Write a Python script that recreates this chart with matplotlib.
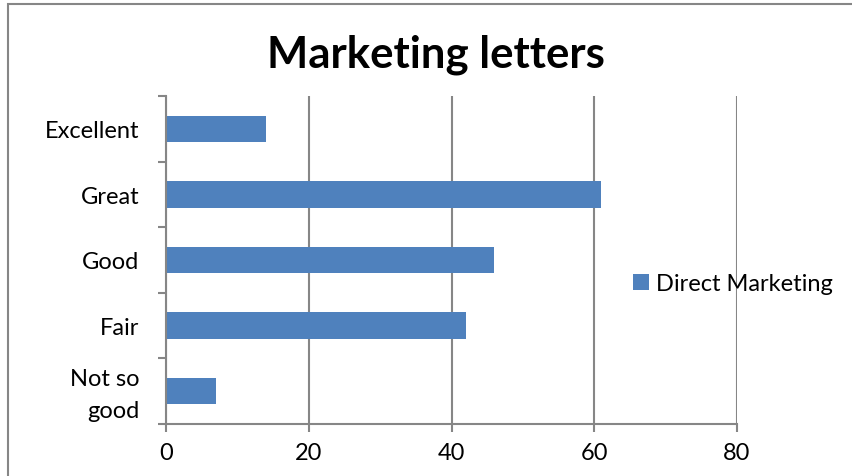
import matplotlib.pyplot as plt
from matplotlib.patches import Rectangle
from matplotlib.transforms import ScaledTranslation

categories = ["Not so\ngood", "Fair", "Good", "Great", "Excellent"]
direct_marketing = [7, 42, 46, 61, 14]
x_ticks = [0, 20, 40, 60, 80]

bar_color = "#4F81BD"
line_color = "#868686"

plt.rcParams['font.family'] = ['Lato', 'DejaVu Sans']

fig = plt.figure(figsize=(8.52, 4.77), dpi=100)
ax = fig.add_axes([166 / 852, 1 - 425 / 477, (737 - 166) / 852, (425 - 97) / 477])

# chart border (runs off the right and bottom edges)
fig.patches.append(Rectangle((8 / 852, -0.1), 1.2, 1 - 5 / 477 + 0.1,
                             transform=fig.transFigure, fill=False,
                             edgecolor=line_color, linewidth=1.5))

pos = list(range(len(categories)))
ax.barh(pos, direct_marketing, height=0.4, color=bar_color, label="Direct Marketing", zorder=2)

ax.set_xlim(0, 80)
ax.set_ylim(-0.5, len(categories) - 0.5)
ax.set_xticks(x_ticks)
ax.set_yticks(pos)
ax.set_yticklabels(categories, fontsize=17, linespacing=1.65)
ax.set_yticks([p - 0.5 for p in pos] + [len(pos) - 0.5], minor=True)
ax.tick_params(axis='y', which='major', length=0, pad=19)
ax.tick_params(axis='y', which='minor', length=6, width=1.5, color=line_color, direction='out')
ax.tick_params(axis='x', length=6, width=1.5, color=line_color, labelsize=17, pad=7)

# two-line label sits a little higher
lbl = ax.get_yticklabels()[0]
lbl.set_transform(lbl.get_transform() + ScaledTranslation(0, 3 / 72, fig.dpi_scale_trans))

ax.grid(axis='x', color=line_color, linewidth=1.5, zorder=1)
for side in ['top', 'right']:
    ax.spines[side].set_visible(False)
for side in ['left', 'bottom']:
    ax.spines[side].set_color(line_color)
    ax.spines[side].set_linewidth(1.5)

ax.set_title("Marketing letters", fontsize=31.5, fontweight='bold', pad=21.5, x=0.473)

leg = ax.legend(loc='center left', bbox_to_anchor=(0.781, 0.427), frameon=False,
                fontsize=17, handlelength=0.65, handleheight=0.65, handletextpad=0.3)

fig.savefig("out.png", dpi=100)
